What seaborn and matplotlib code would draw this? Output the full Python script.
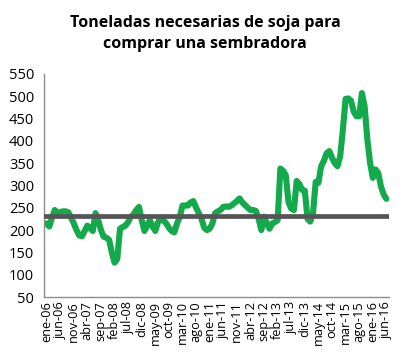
import numpy as np
import pandas as pd
import matplotlib
matplotlib.use("Agg")
import matplotlib.pyplot as plt
import seaborn as sns

# Toneladas de soja por sembradora, mensual ene-06 .. jun-16
toneladas = [
    215, 208, 228, 245, 238, 240, 242, 242, 240, 228, 215, 200,
    188, 186, 198, 210, 205, 198, 238, 222, 200, 185, 183, 178,
    150, 127, 135, 203, 207, 210, 218, 230, 235, 245, 252, 222,
    198, 210, 222, 208, 198, 218, 226, 222, 215, 205, 198, 195,
    215, 230, 255, 255, 255, 262, 265, 250, 238, 225, 205, 200,
    203, 215, 238, 242, 245, 252, 253, 252, 255, 260, 265, 271,
    262, 256, 250, 245, 245, 243, 225, 200, 230, 215, 203, 215,
    218, 222, 338, 333, 323, 262, 248, 245, 310, 303, 290, 288,
    225, 219, 237, 308, 306, 343, 355, 372, 377, 362, 350, 343,
    365, 425, 494, 495, 490, 465, 455, 455, 507, 477, 403, 351,
    317, 336, 328, 298, 280, 270,
]
promedio = 232

etiquetas = ["ene-06", "jun-06", "nov-06", "abr-07", "sep-07", "feb-08", "jul-08",
             "dic-08", "may-09", "oct-09", "mar-10", "ago-10", "ene-11", "jun-11",
             "nov-11", "abr-12", "sep-12", "feb-13", "jul-13", "dic-13", "may-14",
             "oct-14", "mar-15", "ago-15", "ene-16", "jun-16"]

df = pd.DataFrame({"mes": np.arange(len(toneladas)), "ton": toneladas})

sns.set_style("white")
plt.rcParams["font.family"] = ["Open Sans", "DejaVu Sans"]

fig = plt.figure(figsize=(4.1, 3.64), dpi=100)
ax = fig.add_axes([0.107, 0.184, 0.842, 0.613])

sns.lineplot(data=df, x="mes", y="ton", ax=ax, color="#12aa4b", linewidth=4.4,
             solid_joinstyle="round", solid_capstyle="round", zorder=2)
ax.axhline(promedio, color="#555555", linewidth=3.4, zorder=3)

ax.set_xlim(-1, len(toneladas))
ax.set_ylim(50, 550)
ax.set_yticks(range(50, 551, 50))
ax.set_xticks(range(0, len(toneladas), 5))
ax.set_xticklabels(etiquetas, rotation=90, fontsize=9.2)
ax.tick_params(axis="y", labelsize=10.5, length=0, pad=7, labelcolor="black")
ax.tick_params(axis="x", length=0, pad=3, labelcolor="black")
ax.set_xlabel("")
ax.set_ylabel("")
sns.despine(ax=ax)
for s in ["left", "bottom"]:
    ax.spines[s].set_color("#8c8c8c")
    ax.spines[s].set_linewidth(1)

fig.text(0.5, 0.96, "Toneladas necesarias de soja para\ncomprar una sembradora",
         ha="center", va="top", fontsize=11.5, fontweight="bold", linespacing=1.45,
         color="black")

fig.savefig("out.png", dpi=100)
